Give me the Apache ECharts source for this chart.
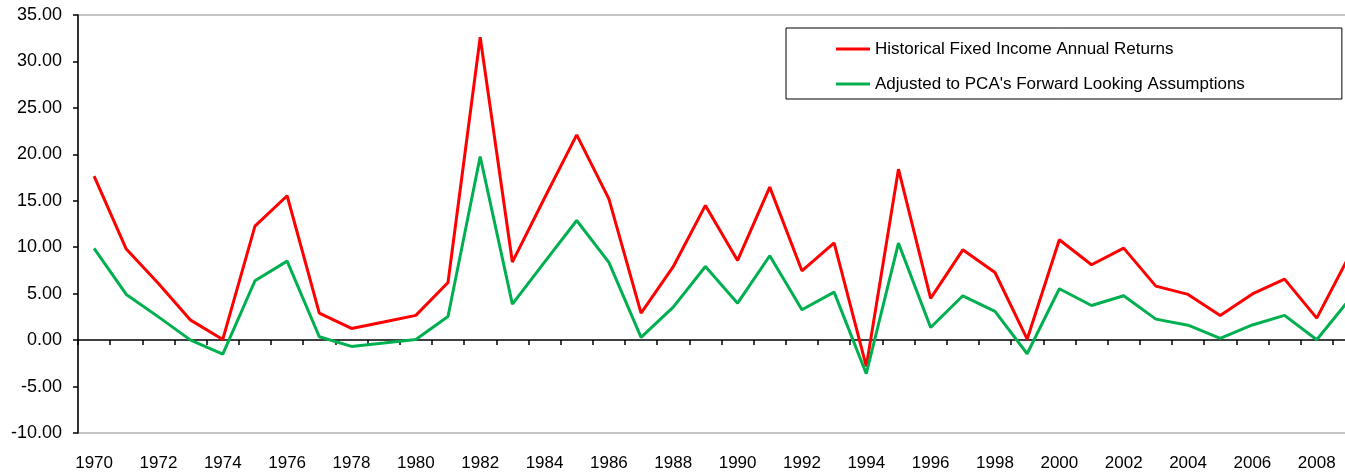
<!DOCTYPE html>
<html>
<head>
<meta charset="utf-8">
<script src="https://cdn.jsdelivr.net/npm/echarts@6/dist/echarts.min.js"></script>
<style>
html,body{margin:0;padding:0;background:#fff;}
#chart{width:1345px;height:472px;}
</style>
</head>
<body>
<div id="chart"></div>
<script>
const years = [];
for (let y = 1970; y <= 2009; y++) years.push(String(y));

const historical = [17.65, 9.80, 6.1, 2.15, 0.07, 12.27, 15.54, 2.9, 1.26, 1.94,
  2.66, 6.2, 32.6, 8.4, 15.3, 22.1, 15.2, 2.9, 7.9, 14.5,
  8.58, 16.47, 7.46, 10.48, -2.83, 18.4, 4.49, 9.72, 7.28, 0.1,
  10.8, 8.11, 9.9, 5.81, 4.92, 2.66, 4.97, 6.57, 2.37, 9.0];

const adjusted = [9.87, 4.92, 2.5, 0.0, -1.5, 6.39, 8.5, 0.36, -0.68, -0.32,
  0.07, 2.55, 19.77, 3.87, 8.4, 12.88, 8.36, 0.29, 3.55, 7.93,
  3.98, 9.08, 3.27, 5.17, -3.62, 10.44, 1.36, 4.77, 3.09, -1.47,
  5.53, 3.73, 4.77, 2.26, 1.61, 0.18, 1.63, 2.66, 0.04, 4.3];

const seriesNames = ["Historical Fixed Income Annual Returns", "Adjusted to PCA's Forward Looking Assumptions"];
const yTicks = {min: -10, max: 35, step: 5};

const FONT = "'Liberation Sans', Arial, sans-serif";
const chart = echarts.init(document.getElementById('chart'), null, {renderer: 'canvas'});
chart.setOption({
  animation: false,
  backgroundColor: '#fff',
  grid: {left: 78, top: 15, width: 1287, height: 418, outerBoundsMode: 'none', containLabel: false, show: true, borderColor: '#8c8c8c', borderWidth: 1, backgroundColor: 'transparent'},
  legend: {
    orient: 'vertical', left: 786, top: 28,
    padding: [11, 97, 5, 50],
    itemGap: 15, itemWidth: 34, itemHeight: 3, icon: 'rect',
    borderColor: '#000', borderWidth: 1,
    textStyle: {fontFamily: FONT, fontSize: 17, color: '#000', lineHeight: 20},
    data: seriesNames
  },
  xAxis: [
    {
      type: 'category', data: years, boundaryGap: true,
      axisLine: {show: true, onZero: true, lineStyle: {color: '#000', width: 1.5}},
      axisTick: {show: true, interval: 0, length: 5, inside: false, lineStyle: {color: '#000', width: 1.5}},
      axisLabel: {show: false},
      splitLine: {show: false}
    },
    {
      type: 'category', data: years, boundaryGap: true, position: 'bottom',
      axisLine: {show: false, onZero: false},
      axisTick: {show: false},
      axisLabel: {show: true, interval: 1, margin: 22, fontFamily: FONT, fontSize: 17, color: '#000'},
      splitLine: {show: false}
    }
  ],
  yAxis: {
    type: 'value', min: yTicks.min, max: yTicks.max, interval: yTicks.step,
    axisLine: {show: true, lineStyle: {color: '#000', width: 1.5}},
    axisTick: {show: true, length: 5, inside: false, lineStyle: {color: '#000', width: 1.5}},
    axisLabel: {margin: 16, fontFamily: FONT, fontSize: 18, color: '#000', formatter: v => v.toFixed(2)},
    splitLine: {show: false}
  },
  series: [
    {name: seriesNames[0], type: 'line', data: historical, symbol: 'none', color: '#ff0000', lineStyle: {width: 3, color: '#ff0000'}, xAxisIndex: 0},
    {name: seriesNames[1], type: 'line', data: adjusted, symbol: 'none', color: '#00b050', lineStyle: {width: 3, color: '#00b050'}, xAxisIndex: 0}
  ]
});
</script>
</body>
</html>
